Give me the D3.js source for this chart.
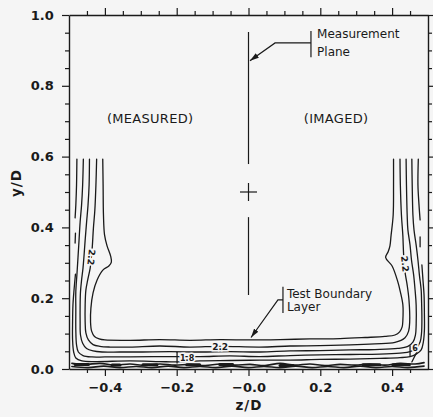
<!DOCTYPE html>
<html>
<head>
<meta charset="utf-8">
<script src="https://cdn.jsdelivr.net/npm/d3@7"></script>
<style>
  html, body { margin: 0; padding: 0; background: #f5f5f5; }
  svg { display: block; }
  text { font-family: "DejaVu Sans", sans-serif; fill: #1a1a1a; }
</style>
</head>
<body>
<svg id="chart" width="433" height="417"></svg>
<script>
// ---- axis ticks ----
const zMajor = [-0.4, -0.2, 0, 0.2, 0.4];
const zTickLabels = ["\u22120.4", "\u22120.2", "\u22120.0", "0.2", "0.4"];
const zMinor = [-0.45, -0.35, -0.3, -0.25, -0.15, -0.1, -0.05, 0.05, 0.1, 0.15, 0.25, 0.3, 0.35, 0.45];
const yMajor = [0, 0.2, 0.4, 0.6, 0.8, 1.0];
const yTickLabels = ["0.0", "0.2", "0.4", "0.6", "0.8", "1.0"];
const yMinor = [0.05, 0.1, 0.15, 0.25, 0.3, 0.35, 0.45, 0.5, 0.55, 0.65, 0.7, 0.75, 0.85, 0.9, 0.95];

// ---- contour lines, [z/D, y/D]; each level is a list of polyline pieces ----
const c24 = [[
  [-0.406,0.593],[-0.405,0.520],[-0.404,0.435],[-0.401,0.379],[-0.394,0.348],[-0.384,0.319],[-0.382,0.302],
  [-0.389,0.291],[-0.405,0.280],[-0.422,0.251],[-0.433,0.215],[-0.439,0.172],[-0.440,0.133],[-0.437,0.107],
  [-0.429,0.092],[-0.416,0.085],[-0.400,0.082],[-0.330,0.081],[-0.247,0.083],[-0.163,0.081],[-0.079,0.083],
  [0.004,0.082],[0.088,0.083],[0.171,0.085],[0.255,0.086],[0.325,0.089],[0.380,0.092],[0.408,0.096],
  [0.421,0.105],[0.428,0.119],[0.430,0.138],[0.430,0.181],[0.423,0.218],[0.416,0.246],[0.400,0.291],
  [0.382,0.315],[0.389,0.331],[0.394,0.348],[0.397,0.376],[0.403,0.435],[0.404,0.520],[0.404,0.593]
]];
const c22 = [[
  [-0.423,0.593],[-0.425,0.520],[-0.428,0.449],[-0.432,0.398],[-0.435,0.347],[-0.437,0.322],[-0.441,0.285],
  [-0.448,0.251],[-0.453,0.223],[-0.455,0.181],[-0.455,0.133],[-0.453,0.102],[-0.446,0.082],[-0.433,0.069],
  [-0.414,0.064],[-0.386,0.062],[-0.330,0.062],[-0.247,0.065],[-0.163,0.062],[-0.079,0.064],[0.032,0.062],
  [0.116,0.065],[0.199,0.066],[0.283,0.068],[0.352,0.071],[0.408,0.075],[0.436,0.088],[0.446,0.107],
  [0.449,0.133],[0.447,0.195],[0.442,0.237],[0.436,0.274],[0.432,0.325],[0.430,0.376],[0.426,0.435],
  [0.423,0.520],[0.422,0.593]
]];
const c20 = [[
  [-0.443,0.593],[-0.444,0.520],[-0.447,0.463],[-0.451,0.415],[-0.455,0.364],[-0.458,0.322],[-0.461,0.285],
  [-0.465,0.251],[-0.468,0.218],[-0.469,0.181],[-0.469,0.133],[-0.468,0.096],[-0.462,0.073],[-0.451,0.058],
  [-0.433,0.051],[-0.408,0.048],[-0.358,0.048],[-0.302,0.048],[-0.219,0.049],[-0.135,0.048],[-0.052,0.049],
  [0.032,0.048],[0.116,0.051],[0.199,0.052],[0.283,0.054],[0.352,0.055],[0.416,0.058],[0.444,0.064],
  [0.458,0.076],[0.465,0.096],[0.467,0.124],[0.467,0.181],[0.464,0.223],[0.460,0.266],[0.454,0.308],
  [0.450,0.350],[0.444,0.393],[0.442,0.435],[0.440,0.520],[0.439,0.593]
]];
const c18 = [[
  [-0.460,0.593],[-0.462,0.520],[-0.465,0.463],[-0.469,0.415],[-0.472,0.364],[-0.475,0.314],[-0.478,0.266],
  [-0.481,0.218],[-0.481,0.167],[-0.481,0.110],[-0.479,0.068],[-0.474,0.048],[-0.461,0.038],[-0.436,0.034],
  [-0.400,0.034],[-0.330,0.034],[-0.233,0.035],[-0.135,0.035],[-0.052,0.037],[0.032,0.035],[0.116,0.038],
  [0.199,0.040],[0.283,0.041],[0.366,0.042],[0.422,0.045],[0.450,0.049],[0.467,0.059],[0.478,0.076],
  [0.482,0.102],[0.483,0.144],[0.482,0.195],[0.481,0.223],[0.476,0.266],[0.472,0.308],[0.467,0.350],
  [0.461,0.393],[0.458,0.435],[0.456,0.520],[0.455,0.593]
]];
const c16 = [
  [[-0.478,0.593],[-0.479,0.520],[-0.481,0.463],[-0.483,0.427]],
  [[-0.482,0.384],[-0.483,0.356]],
  [[-0.482,0.268],[-0.486,0.223],[-0.489,0.181],[-0.490,0.133],[-0.490,0.082],[-0.487,0.048],[-0.481,0.031],
   [-0.464,0.023],[-0.428,0.021],[-0.330,0.023],[-0.247,0.021],[-0.199,0.020],[-0.135,0.023],[-0.052,0.024],
   [0.032,0.025],[0.116,0.025],[0.199,0.027],[0.283,0.028],[0.366,0.030],[0.422,0.032],[0.450,0.035],
   [0.467,0.042],[0.481,0.054],[0.487,0.076],[0.490,0.110],[0.490,0.153],[0.489,0.209],[0.486,0.251],
   [0.483,0.294]],
  [[0.478,0.373],[0.478,0.345]],
  [[0.478,0.421],[0.475,0.463],[0.472,0.520],[0.473,0.593]]
];
// small pocket beside the 1.8 label and pieces in the right-hand corner
const pocketEdge = [[-0.199,0.047],[-0.199,0.017]];
const cornerPieces = [
  [[0.450,0.065],[0.450,0.037]],
  [[0.455,0.020],[0.469,0.048]]
];
// noisy contours hugging the floor
const floorA = [
  [-0.492,0.016],[-0.455,0.013],[-0.414,0.016],[-0.372,0.011],[-0.330,0.014],[-0.288,0.010],[-0.247,0.014],
  [-0.205,0.011],[-0.163,0.013],[-0.121,0.010],[-0.079,0.014],[-0.038,0.011],[0.004,0.013],[0.046,0.010],
  [0.088,0.016],[0.129,0.011],[0.171,0.014],[0.213,0.010],[0.255,0.013],[0.297,0.011],[0.338,0.014],
  [0.380,0.011],[0.422,0.016],[0.464,0.014],[0.489,0.018]
];
const floorB = [
  [-0.492,0.007],[-0.447,0.004],[-0.403,0.008],[-0.358,0.004],[-0.313,0.007],[-0.269,0.004],[-0.224,0.008],
  [-0.180,0.004],[-0.135,0.007],[-0.091,0.004],[-0.046,0.008],[-0.001,0.004],[0.043,0.007],[0.088,0.004],
  [0.132,0.008],[0.177,0.004],[0.221,0.007],[0.266,0.004],[0.311,0.008],[0.355,0.004],[0.400,0.007],
  [0.444,0.004],[0.489,0.008]
];
// dense patches along the floor: [z start, z end, y]
const floorPatches = [
  [-0.483,-0.446,0.013],[-0.380,-0.358,0.011],[-0.294,-0.255,0.012],[-0.172,-0.136,0.012],
  [-0.080,-0.044,0.013],[0.088,0.124,0.010],[0.319,0.366,0.012],[0.402,0.448,0.012]
];

// contour labels: text, z, y, angle
const contourLabels = [
  ["2.2", -0.079, 0.064, 0],
  ["2.2", -0.438, 0.316, 96],
  ["2.2", 0.436, 0.297, 84],
  ["1.8", -0.171, 0.031, 0],
  ["6", 0.464, 0.058, 0]
];

// measurement plane and the tunnel centre
const planeSegments = [[[0,0.952],[0,0.579]], [[0,0.429],[0,0.209]]];
const tunnelCentre = [0, 0.5];
const planeNoteLines = ["Measurement", "Plane"];
const planeNoteAnchor = { z: 0.191, y: [0.935, 0.884], bar: [0.174, 0.955, 0.881],
  leader: [[0.174,0.921],[0.074,0.921],[0.004,0.871]] };
const layerNoteLines = ["Test Boundary", "Layer"];
const layerNoteAnchor = { z: 0.107, y: [0.201, 0.164], bar: [0.096, 0.232, 0.158],
  leader: [[0.096,0.195],[0.082,0.195],[0.007,0.089]] };
const halfLabels = [["(MEASURED)", -0.274, 0.695], ["(IMAGED)", 0.244, 0.695]];

// ---- drawing ----
const ink = "#1a1a1a", paper = "#f5f5f5";
const svg = d3.select("#chart");
const x = d3.scaleLinear().domain([-0.5, 0.5]).range([69, 428]);
const y = d3.scaleLinear().domain([0, 1]).range([369, 15]);

const defs = svg.append("defs");
defs.append("marker").attr("id", "arrow").attr("viewBox", "0 0 10 6")
  .attr("refX", 10).attr("refY", 3).attr("markerWidth", 9).attr("markerHeight", 5.4)
  .attr("markerUnits", "userSpaceOnUse").attr("orient", "auto")
  .append("path").attr("d", "M0,0L10,3L0,6Z").attr("fill", ink);

const line = d3.line().x(d => x(d[0])).y(d => y(d[1])).curve(d3.curveCatmullRom.alpha(0.5));
const straight = d3.line().x(d => x(d[0])).y(d => y(d[1]));

const cg = svg.append("g").attr("fill", "none").attr("stroke", ink)
  .attr("stroke-width", 1.3).attr("stroke-linejoin", "round").attr("stroke-linecap", "round");
[c24, c22, c20, c18, c16].forEach(level => {
  level.forEach(piece => cg.append("path").attr("d", line(piece)));
});
cg.append("path").attr("d", straight(pocketEdge));
cornerPieces.forEach(p => cg.append("path").attr("d", straight(p)));
cg.append("path").attr("d", line(floorA)).attr("stroke-width", 1.6);
cg.append("path").attr("d", line(floorB)).attr("stroke-width", 1.6);
floorPatches.forEach(p => cg.append("line")
  .attr("x1", x(p[0])).attr("x2", x(p[1])).attr("y1", y(p[2])).attr("y2", y(p[2]))
  .attr("stroke-width", 3));

// contour labels cut a gap into their line
contourLabels.forEach(([t, z, v, a]) => {
  svg.append("text").text(t)
    .attr("transform", `translate(${x(z)},${y(v)}) rotate(${a})`)
    .attr("text-anchor", "middle").attr("dy", "0.35em")
    .attr("font-size", t === "2.2" ? 9 : 8).attr("font-weight", "bold")
    .attr("stroke", paper).attr("stroke-width", 3).attr("paint-order", "stroke");
});

// measurement plane
const ag = svg.append("g").attr("stroke", ink).attr("stroke-width", 1.2).attr("fill", "none");
planeSegments.forEach(s => ag.append("path").attr("d", straight(s)));
ag.append("line").attr("x1", x(tunnelCentre[0]) - 8.5).attr("x2", x(tunnelCentre[0]) + 8.5)
  .attr("y1", y(tunnelCentre[1])).attr("y2", y(tunnelCentre[1]));
ag.append("line").attr("x1", x(tunnelCentre[0])).attr("x2", x(tunnelCentre[0]))
  .attr("y1", y(tunnelCentre[1]) - 9).attr("y2", y(tunnelCentre[1]) + 9);

// callouts
[[planeNoteLines, planeNoteAnchor], [layerNoteLines, layerNoteAnchor]].forEach(([lines, a]) => {
  ag.append("line").attr("x1", x(a.bar[0])).attr("x2", x(a.bar[0]))
    .attr("y1", y(a.bar[1])).attr("y2", y(a.bar[2]));
  ag.append("path").attr("d", straight(a.leader)).attr("marker-end", "url(#arrow)");
  lines.forEach((t, i) => svg.append("text").text(t)
    .attr("x", x(a.z)).attr("y", y(a.y[i])).attr("font-size", 12));
});
halfLabels.forEach(([t, z, v]) => svg.append("text").text(t)
  .attr("x", x(z)).attr("y", y(v)).attr("text-anchor", "middle")
  .attr("font-size", 13).attr("letter-spacing", 0.3));

// ---- axes (frame with outward ticks on all four sides) ----
function styleAxis(g) {
  g.select(".domain").attr("stroke", ink).attr("stroke-width", 1.4);
  g.selectAll(".tick line").attr("stroke", ink).attr("stroke-width", 1.2);
  g.selectAll(".tick text").attr("fill", ink).attr("font-family", "DejaVu Sans, sans-serif")
    .attr("font-size", 13).attr("font-weight", "bold");
}
function addAxis(gen, tx, ty, major, labels) {
  const g = svg.append("g").attr("transform", `translate(${tx},${ty})`)
    .call(gen(major === "x" ? x : y).tickValues(major === "x" ? zMinor : yMinor)
      .tickSize(4).tickSizeOuter(0).tickFormat(""));
  g.select(".domain").remove();
  g.selectAll(".tick line").attr("stroke", ink).attr("stroke-width", 1.2);
  const m = svg.append("g").attr("transform", `translate(${tx},${ty})`)
    .call(gen(major === "x" ? x : y).tickValues(major === "x" ? zMajor : yMajor)
      .tickSize(7).tickSizeOuter(0).tickPadding(labels ? 7 : 3)
      .tickFormat(labels ? (d, i) => labels[i] : ""));
  styleAxis(m);
  return m;
}
addAxis(d3.axisBottom, 0, 369, "x", zTickLabels);
addAxis(d3.axisTop, 0, 15, "x", null);
addAxis(d3.axisLeft, 69, 0, "y", yTickLabels).selectAll(".tick text").attr("dx", "-0.1em");
addAxis(d3.axisRight, 428, 0, "y", null);

// axis titles
svg.append("text").text("z/D").attr("x", 249).attr("y", 410)
  .attr("text-anchor", "middle").attr("font-size", 13.5).attr("font-weight", "bold")
  .attr("letter-spacing", 1);
svg.append("text").text("y/D").attr("transform", "translate(21,183) rotate(-90)")
  .attr("text-anchor", "middle").attr("font-size", 13.5).attr("font-weight", "bold")
  .attr("letter-spacing", 1);
</script>
</body>
</html>
